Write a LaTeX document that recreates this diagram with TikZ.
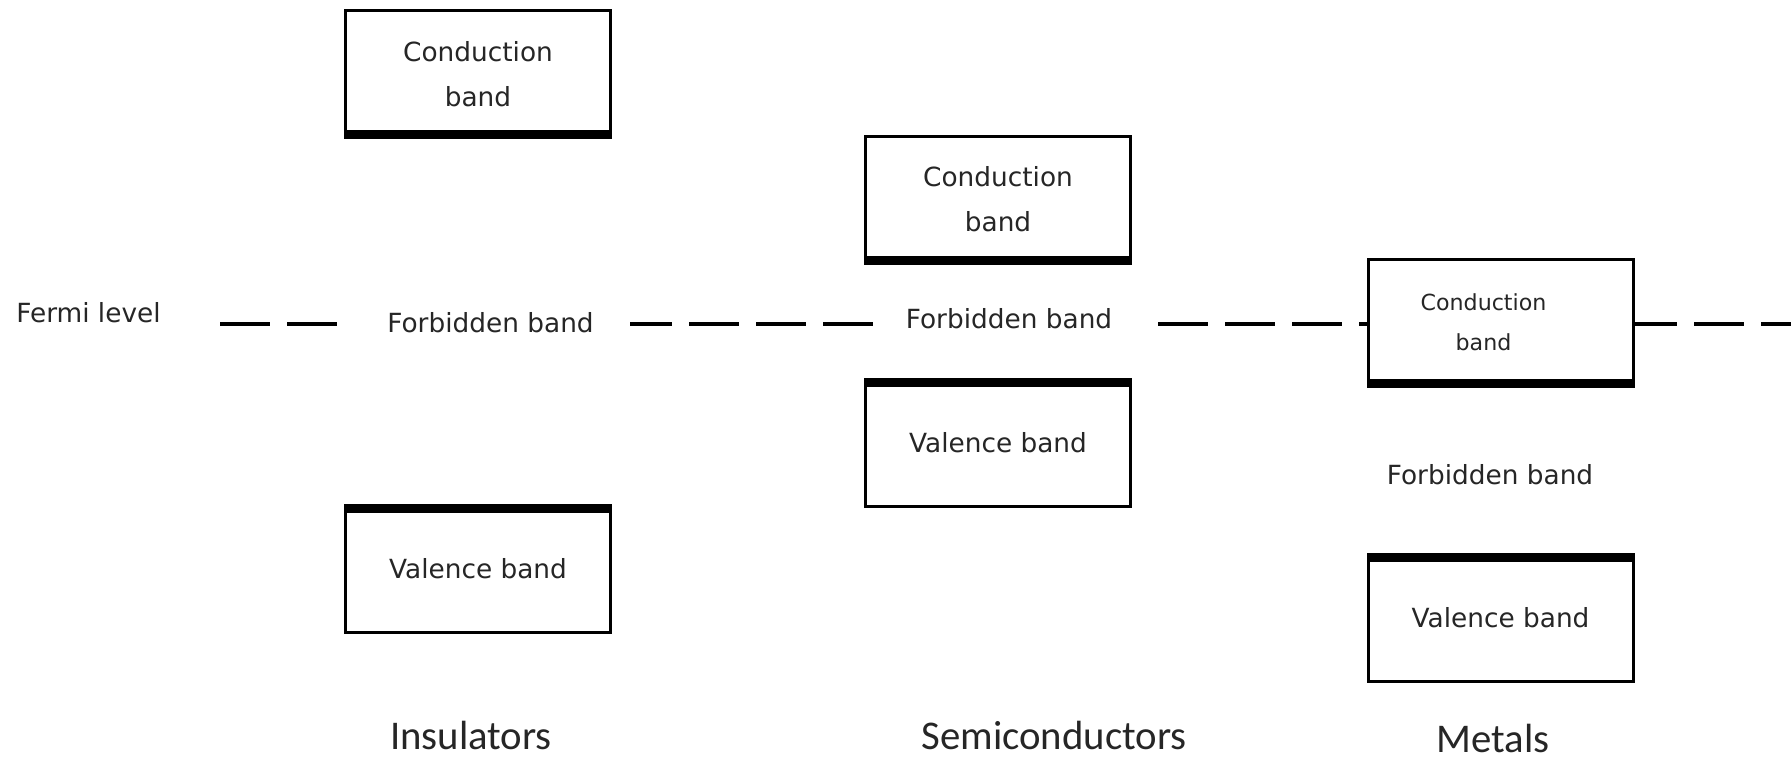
\documentclass[tikz,border=0pt]{standalone}
\usepackage{fontspec}
\newfontfamily\bandfont{DejaVu Sans}
\newfontfamily\matfont{Carlito}
\usetikzlibrary{positioning}
\tikzset
{
    band/.style      = {rectangle, draw=black, line width=0.85pt, fill=white, minimum width=2.65cm, minimum height=1.27cm, align=center, inner sep=0pt, text=black!85, font=\bandfont\fontsize{7.5}{12.8}\selectfont},
    bandtext/.style  = {fill=white, inner xsep=0.3cm, text=black!85, font=\bandfont\fontsize{7.5}{9}\selectfont},
    bandedge/.style  = {fill=black},
    fermiline/.style = {line width=1.2pt, dash pattern=on 0.5cm off 0.17cm},
    material/.style  = {anchor=base, text=black!85, font=\matfont\fontsize{11.6}{14}\selectfont}
}

\begin{document}
\begin{tikzpicture}
	 \newcommand\EDGE{0.09cm}
	 \newcommand\FERMIY{-3.24}
	 \useasboundingbox (0, 0) rectangle (17.91, -7.58);

	 % fermi level, drawn first so the boxes and texts sit on it
	 \coordinate (f0) at (2.20, \FERMIY);
	 \coordinate (f1) at (17.91, \FERMIY);
	 \draw[fermiline] (f0) -- (f1);

	 \node (fl)  [bandtext, fill=none]  at (0.885, -3.13)                   {Fermi level};

	 % insulators
	 \node (ic)  [band]                 at (4.78, -0.74)                    {Conduction \\ band};
	 \node (iv)  [band]                 at ([shift=({0, -4.945})]ic)        {Valence band};
	 \node (fbi) [bandtext, inner xsep=0.36cm]
	                                    at (4.905, -3.23)                   {Forbidden band};

	 % semiconductors
	 \node (sc)  [band]                 at (9.98, -1.995)                   {Conduction \\ band};
	 \node (sv)  [band]                 at ([shift=({0, -2.43})]sc)         {Valence band};
	 \node (fbs) [bandtext]             at (10.09, -3.19)                   {Forbidden band};

	 % metals
	 \node (mc)  [band, font=\bandfont\fontsize{6.3}{11.4}\selectfont]
	                                    at (15.005, -3.225)                 {Conduction\hspace*{0.34cm} \\ band\hspace*{0.34cm}};
	 \node (mv)  [band]                 at ([shift=({0, -2.955})]mc)        {Valence band};
	 \node (fbm) [bandtext]             at (14.90, -4.75)                   {Forbidden band};

	 % thick band edges
	 \fill[bandedge] (ic.south west) rectangle ([yshift=\EDGE]ic.south east);
	 \fill[bandedge] (sc.south west) rectangle ([yshift=\EDGE]sc.south east);
	 \fill[bandedge] (mc.south west) rectangle ([yshift=\EDGE]mc.south east);
	 \fill[bandedge] (iv.north west) rectangle ([yshift=-\EDGE]iv.north east);
	 \fill[bandedge] (sv.north west) rectangle ([yshift=-\EDGE]sv.north east);
	 \fill[bandedge] (mv.north west) rectangle ([yshift=-\EDGE]mv.north east);

	 \node (ins) [material]             at (4.71, -7.49)                    {Insulators};
	 \node (sem) [material]             at (10.54, -7.49)                   {Semiconductors};
	 \node (met) [material]             at (14.93, -7.52)                   {Metals};
\end{tikzpicture}
\end{document}
